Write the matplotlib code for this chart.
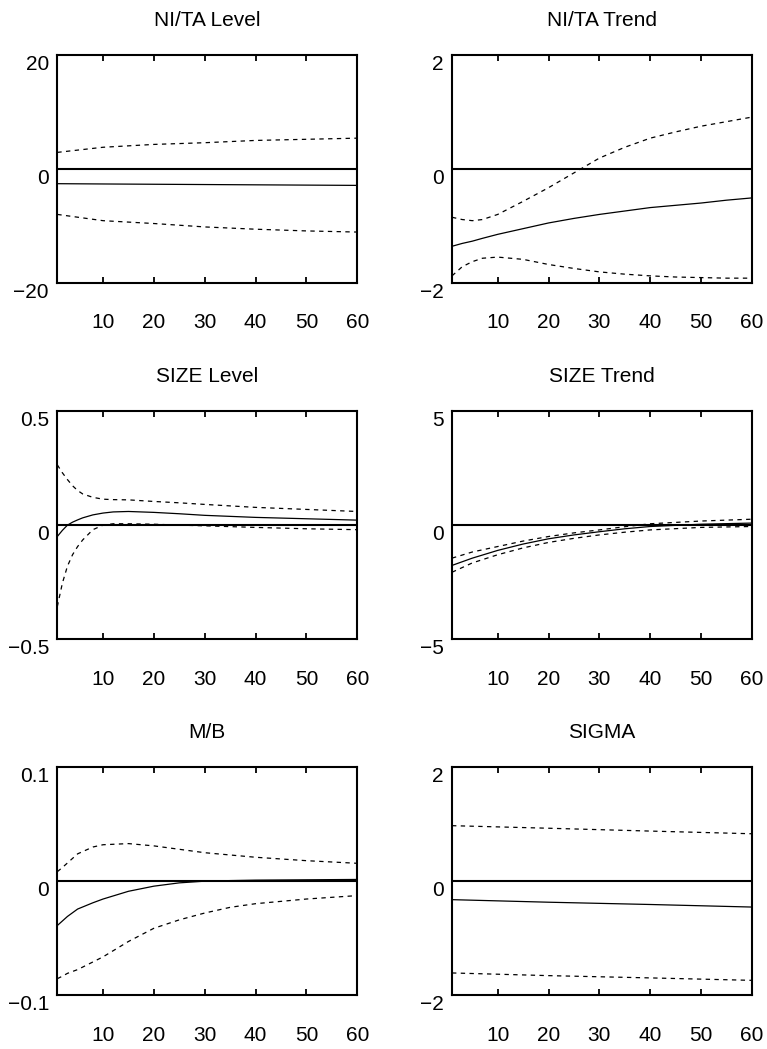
import matplotlib
matplotlib.use('Agg')
import matplotlib.pyplot as plt
import numpy as np

plt.rcParams['font.family'] = ['Liberation Sans', 'DejaVu Sans']
plt.rcParams['font.size'] = 15

h_nita_lvl = [1, 10, 20, 30, 40, 50, 60]
nita_lvl_mid = [-2.6, -2.65, -2.7, -2.75, -2.8, -2.85, -2.9]
nita_lvl_hi = [2.9, 3.8, 4.3, 4.6, 5.0, 5.2, 5.4]
nita_lvl_lo = [-8.0, -9.1, -9.6, -10.2, -10.6, -10.9, -11.1]

h_nita_trd = [1, 3, 5, 7, 10, 15, 20, 25, 30, 35, 40, 45, 50, 55, 60]
nita_trd_mid = [-1.36, -1.31, -1.27, -1.22, -1.15, -1.05, -0.95, -0.87, -0.80, -0.74, -0.68, -0.64, -0.60, -0.55, -0.51]
nita_trd_hi = [-0.85, -0.89, -0.91, -0.89, -0.80, -0.57, -0.33, -0.07, 0.19, 0.38, 0.54, 0.65, 0.75, 0.83, 0.91]
nita_trd_lo = [-1.88, -1.72, -1.63, -1.57, -1.55, -1.59, -1.68, -1.75, -1.81, -1.85, -1.88, -1.90, -1.91, -1.92, -1.92]

h_size_lvl = [1, 2, 3, 4, 5, 6, 8, 10, 12, 15, 20, 25, 30, 40, 50, 60]
size_lvl_mid = [-0.05, -0.023, 0.0, 0.013, 0.023, 0.032, 0.045, 0.053, 0.058, 0.060, 0.056, 0.050, 0.043, 0.034, 0.028, 0.022]
size_lvl_hi = [0.265, 0.23, 0.20, 0.173, 0.152, 0.137, 0.122, 0.114, 0.112, 0.111, 0.104, 0.098, 0.091, 0.078, 0.069, 0.060]
size_lvl_lo = [-0.358, -0.255, -0.18, -0.13, -0.094, -0.065, -0.02, 0.0, 0.006, 0.006, 0.004, 0.0, -0.003, -0.01, -0.016, -0.02]

h_size_trd = [1, 5, 10, 15, 20, 25, 30, 35, 40, 50, 60]
size_trd_mid = [-1.77, -1.45, -1.11, -0.83, -0.60, -0.43, -0.29, -0.16, -0.06, 0.04, 0.09]
size_trd_hi = [-1.45, -1.18, -0.94, -0.70, -0.50, -0.34, -0.21, -0.07, 0.06, 0.18, 0.26]
size_trd_lo = [-2.07, -1.66, -1.30, -1.00, -0.76, -0.58, -0.43, -0.31, -0.21, -0.10, -0.06]

h_mb = [1, 2, 3, 5, 8, 10, 15, 20, 25, 30, 35, 40, 50, 60]
mb_mid = [-0.039, -0.035, -0.031, -0.0245, -0.019, -0.0157, -0.0089, -0.0044, -0.0015, 0.0, 0.0005, 0.0009, 0.0012, 0.0015]
mb_hi = [0.0083, 0.012, 0.016, 0.024, 0.030, 0.032, 0.033, 0.031, 0.028, 0.025, 0.023, 0.021, 0.018, 0.0157]
mb_lo = [-0.0857, -0.0835, -0.081, -0.0777, -0.071, -0.0665, -0.053, -0.0414, -0.034, -0.028, -0.023, -0.0198, -0.0157, -0.0127]

h_sigma = [1, 20, 40, 60]
sigma_mid = [-0.325, -0.37, -0.41, -0.455]
sigma_hi = [0.975, 0.93, 0.88, 0.833]
sigma_lo = [-1.613, -1.66, -1.70, -1.743]

titles = ['NI/TA Level', 'NI/TA Trend', 'SIZE Level', 'SIZE Trend', 'M/B', 'SIGMA']
ylims = [20, 2, 0.5, 5, 0.1, 2]
ylabels = [['\u221220', '0', '20'], ['\u22122', '0', '2'], ['\u22120.5', '0', '0.5'],
           ['\u22125', '0', '5'], ['\u22120.1', '0', '0.1'], ['\u22122', '0', '2']]
panels = [
    (h_nita_lvl, nita_lvl_mid, nita_lvl_hi, nita_lvl_lo),
    (h_nita_trd, nita_trd_mid, nita_trd_hi, nita_trd_lo),
    (h_size_lvl, size_lvl_mid, size_lvl_hi, size_lvl_lo),
    (h_size_trd, size_trd_mid, size_trd_hi, size_trd_lo),
    (h_mb, mb_mid, mb_hi, mb_lo),
    (h_sigma, sigma_mid, sigma_hi, sigma_lo),
]

fig = plt.figure(figsize=(7.67, 10.49), dpi=100)

lefts = [0.0747, 0.5893]
bottoms = [0.7305, 0.3909, 0.0515]
w, hgt = 0.391, 0.217

for i, (h, mid, hi, lo) in enumerate(panels):
    ax = fig.add_axes([lefts[i % 2], bottoms[i // 2], w, hgt])
    lim = ylims[i]
    ax.axhline(0, color='k', lw=1.5)
    ax.plot(h, mid, color='k', lw=0.9)
    ax.plot(h, hi, color='k', lw=0.9, linestyle=(0, (3.5, 3.5)))
    ax.plot(h, lo, color='k', lw=0.9, linestyle=(0, (3.5, 3.5)))
    ax.set_xlim(1, 60)
    ax.set_ylim(-lim, lim)
    ax.set_xticks([10, 20, 30, 40, 50, 60])
    ax.set_yticks([-lim, 0, lim])
    ax.set_yticklabels(ylabels[i], va='top')
    ax.tick_params(axis='x', direction='in', top=True, length=4, width=1.3, pad=22)
    ax.tick_params(axis='y', length=0, pad=6)
    for s in ax.spines.values():
        s.set_linewidth(1.5)
    ax.set_title(titles[i], pad=21, fontsize=15)

fig.savefig('out.png', dpi=100)
